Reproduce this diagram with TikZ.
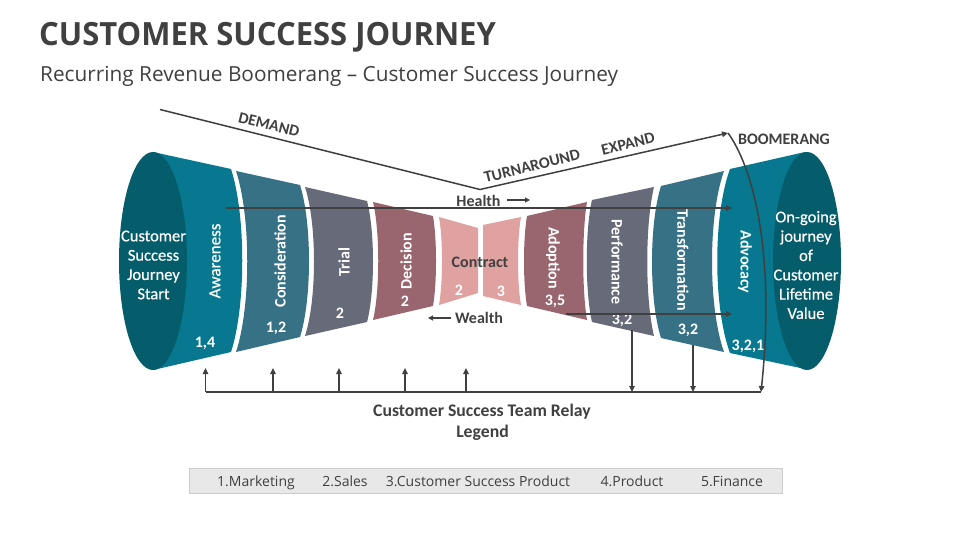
\documentclass[tikz,border=0pt]{standalone}
\usepackage{fontspec}
\setmainfont{Open Sans}
\newfontfamily\cali{Carlito}
\newfontfamily\calimed[FakeBold=0.5]{Carlito}
\usetikzlibrary{arrows.meta}
\definecolor{cTeal}{HTML}{07788F}
\definecolor{cDark}{HTML}{055C6B}
\definecolor{cSteel}{HTML}{367185}
\definecolor{cSlate}{HTML}{676A78}
\definecolor{cRose}{HTML}{99666F}
\definecolor{cPink}{HTML}{E0A1A1}
\definecolor{cInk}{HTML}{404040}
\tikzset{
  wirepath/.style={draw=cInk,line width=1.5pt},
  tipped/.style={wirepath,-{Triangle[length=6pt,width=5.5pt]}},
  finetip/.style={draw=cInk,line width=1.2pt,-{Triangle[length=5pt,width=5pt]}},
  vlabel/.style={font=\cali\bfseries\fontsize{16}{16}\selectfont,text=white,inner sep=0pt},
  vlabellight/.style={font=\calimed\fontsize{17}{17}\selectfont,text=white,inner sep=0pt},
  numlabel/.style={font=\cali\bfseries\fontsize{16}{16}\selectfont,text=white,inner sep=0pt},
  endlabel/.style={font=\calimed\fontsize{16.5}{19.3}\selectfont,text=white,inner sep=0pt,align=center},
  inklabel/.style={font=\cali\bfseries\fontsize{16}{16}\selectfont,text=cInk,inner sep=0pt},
  biglabel/.style={font=\cali\bfseries\fontsize{17.7}{17.7}\selectfont,text=cInk,inner sep=0pt},
  legendlabel/.style={font=\fontsize{14}{14}\selectfont,text=cInk,inner sep=0pt,anchor=base},
}
% segment: colour, left x, left bulge control x, right x, right bulge control x, ytop-left, ybot-left, ytop-right, ybot-right
\newcommand{\segpiece}[9]{%
  \fill[#1] (#2,#6) -- (#4,#8) .. controls (#5,{#8+(#9-#8)*0.25}) and (#5,{#8+(#9-#8)*0.75}) .. (#4,#9)
    -- (#2,#7) .. controls (#3,{#6+(#7-#6)*0.75}) and (#3,{#6+(#7-#6)*0.25}) .. cycle;}
\begin{document}
\begin{tikzpicture}[x=1pt,y=-1pt]
\useasboundingbox (0,0) rectangle (960,540);
\fill[white] (0,0) rectangle (960,540);
% title
\node[anchor=base west,inner sep=0pt,text=cInk,xscale=0.968,font=\bfseries\fontsize{32}{32}\selectfont] (title) at (39,46) {CUSTOMER SUCCESS JOURNEY};
\node[anchor=base west,inner sep=0pt,text=cInk,font=\fontsize{20.8}{20.8}\selectfont] (subtitle) at (40,81.5) {Recurring Revenue Boomerang -- Customer Success Journey};
% left funnel
\segpiece{cTeal}{153}{153}{231}{246}{152}{370}{169}{352}
\segpiece{cSteel}{236}{251}{300}{312}{171}{352}{185}{337}
\segpiece{cSlate}{305}{317}{367}{375}{187}{336}{201}{322}
\segpiece{cRose}{373}{380}{433}{437}{202}{320}{216}{306}
\segpiece{cPink}{439}{443}{478}{478}{217}{305}{228}{293}
% right funnel
\segpiece{cPink}{483}{483}{521}{517}{225}{296}{217}{305}
\segpiece{cRose}{527}{523}{587}{582}{216}{306}{202}{320}
\segpiece{cSlate}{592}{585}{654}{645}{200}{322}{187}{336}
\segpiece{cSteel}{661}{649}{724}{708}{186}{338}{171}{352}
\segpiece{cTeal}{730}{713}{805}{805}{169}{353}{152}{369}
% ellipses
\fill[cDark] (153,261) ellipse [x radius=34,y radius=109];
\fill[cDark] (807,261) ellipse [x radius=34,y radius=109];
% end texts
\node[endlabel] (startnote) at (153.5,265) {Customer\\Success\\Journey\\Start};
\node[endlabel] (endnote) at (806,265) {On-going\\journey\\of\\Customer\\Lifetime\\Value};
% segment names
\node[vlabellight,rotate=90] (awareness) at (215,261) {Awareness};
\node[vlabel,rotate=90] (consideration) at (280,261) {Consideration};
\node[vlabel,rotate=90] (trial) at (344,262) {Trial};
\node[vlabel,rotate=90] (decision) at (406,261) {Decision};
\node[inklabel] (contract) at (480,262) {Contract};
\node[vlabel,rotate=-90] (adoption) at (553,258) {Adoption};
\node[vlabel,rotate=-90] (performance) at (617,262) {Performance};
\node[vlabel,rotate=-90] (transformation) at (683,260) {Transformation};
\node[vlabel,rotate=-90] (advocacy) at (745,262) {Advocacy};
% numbers
\node[numlabel] (n1) at (205,343) {1,4};
\node[numlabel] (n2) at (276,328) {1,2};
\node[numlabel] (n3) at (340,313) {2};
\node[numlabel] (n4) at (405,301) {2};
\node[numlabel] (n5) at (459,290) {2};
\node[numlabel] (n6) at (501,291) {3};
\node[numlabel] (n7) at (555,301) {3,5};
\node[numlabel] (n8) at (622,320) {3,2};
\node[numlabel] (n9) at (688,330) {3,2};
\node[numlabel] (n10) at (748,346) {3,2,1};
% demand line
\coordinate (demandstart) at (160,109.5);
\coordinate (vertex) at (480,189.5);
\coordinate (boomtip) at (728,133);
\coordinate (busend) at (761,392);
\draw[tipped] (demandstart) -- (vertex) -- (boomtip);
\draw[tipped] (boomtip) .. controls (752,166) and (776,250) .. (761,392);
\node[inklabel,rotate=-14] (demand) at (269,124.5) {DEMAND};
\node[inklabel,rotate=14] (turnaround) at (532,166) {TURNAROUND};
\node[inklabel,rotate=14] (expand) at (628,144) {EXPAND};
\node[inklabel] (boomerang) at (784,139) {BOOMERANG};
% health / wealth
\coordinate (healthstart) at (226,208);
\coordinate (healthend) at (732,208);
\coordinate (wealthstart) at (566,314);
\coordinate (wealthend) at (732,314);
\draw[tipped] (healthstart) -- (healthend);
\draw[tipped] (wealthstart) -- (wealthend);
\node[inklabel] (health) at (478.5,201) {Health};
\node[inklabel] (wealth) at (479,318) {Wealth};
\coordinate (ha) at (507,200);
\coordinate (hb) at (530,200);
\draw[finetip] (ha) -- (hb);
\coordinate (wa) at (451,318);
\coordinate (wb) at (428,318);
\draw[finetip] (wa) -- (wb);
% relay bus
\coordinate (busstart) at (205.5,392);
\draw[wirepath] (busstart) -- (busend);
\foreach \xx [count=\i] in {205.5,273,339,405,466}{
  \coordinate (ub\i) at (\xx,392);
  \coordinate (ut\i) at (\xx,368);
  \draw[tipped] (ub\i) -- (ut\i);
}
\coordinate (d1a) at (632,330); \coordinate (d1b) at (632,392);
\coordinate (d2a) at (693,345); \coordinate (d2b) at (693,392);
\draw[tipped] (d1a) -- (d1b);
\draw[tipped] (d2a) -- (d2b);
\node[biglabel] (relay) at (482,411.5) {Customer Success Team Relay};
\node[biglabel] (legend) at (482.5,432.5) {Legend};
% legend bar
\node[draw=black!20,fill=black!9,line width=0.8pt,minimum width=593pt,minimum height=24.5pt,inner sep=0pt] (bar) at (486,481) {};
\node[legendlabel] (l1) at (256,486.5) {1.Marketing};
\node[legendlabel] (l2) at (345,486.5) {2.Sales};
\node[legendlabel] (l3) at (478,486.5) {3.Customer Success Product};
\node[legendlabel] (l4) at (632,486.5) {4.Product};
\node[legendlabel] (l5) at (732,486.5) {5.Finance};
\end{tikzpicture}
\end{document}
